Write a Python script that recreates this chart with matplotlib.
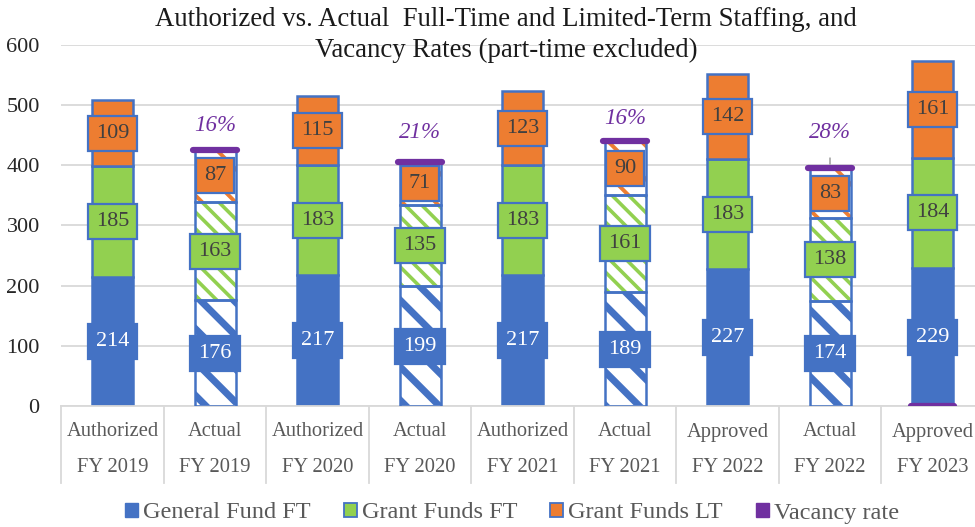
import matplotlib
matplotlib.use("Agg")
import matplotlib.pyplot as plt
import matplotlib.transforms as mtransforms
from matplotlib.patches import Patch
import numpy as np

# ---- data ----
kinds = ["Authorized", "Actual", "Authorized", "Actual", "Authorized", "Actual",
         "Approved", "Actual", "Approved"]
years = ["FY 2019", "FY 2019", "FY 2020", "FY 2020", "FY 2021", "FY 2021",
         "FY 2022", "FY 2022", "FY 2023"]
general_ft = [214, 176, 217, 199, 217, 189, 227, 174, 229]
grant_ft = [185, 163, 183, 135, 183, 161, 183, 138, 184]
grant_lt = [109, 87, 115, 71, 123, 90, 142, 83, 161]
is_actual = [False, True, False, True, False, True, False, True, False]
vacancy_rate = [None, 16, None, 21, None, 16, None, 28, 0]
series_names = ["General Fund FT", "Grant Funds FT", "Grant Funds LT", "Vacancy rate"]
title = "Authorized vs. Actual  Full-Time and Limited-Term Staffing, and\nVacancy Rates (part-time excluded)"

# ---- style ----
BLUE = "#4472C4"
GREEN = "#92D050"
ORANGE = "#ED7D31"
PURPLE = "#7030A0"
GRID = "#D9D9D9"
TXT = "#595959"
FONT = ["Liberation Serif", "DejaVu Serif"]
plt.rcParams["font.family"] = FONT

fig = plt.figure(figsize=(9.75, 5.27), dpi=100)
ax = fig.add_axes([61.25 / 975, 1 - 406 / 527, 922.5 / 975, 361 / 527])
ax.set_xlim(-0.5, 8.5)
ax.set_ylim(0, 600)

x = np.arange(len(kinds))
W = 0.4
series = [general_ft, grant_ft, grant_lt]
colors = [BLUE, GREEN, ORANGE]
hatches = ["\\", "\\\\", "\\"]
hatch_lw = [5.0, 2.6, 2.8]
text_colors = ["white", "#404040", "#404040"]

bottoms = np.zeros(len(kinds))
for vals, col, hat, hlw, tcol in zip(series, colors, hatches, hatch_lw, text_colors):
    vals = np.array(vals, dtype=float)
    for i in range(len(kinds)):
        if is_actual[i]:
            with plt.rc_context({"hatch.linewidth": hlw}):
                b = ax.bar(x[i], vals[i], W, bottom=bottoms[i], facecolor="white",
                           edgecolor=col, hatch=hat, linewidth=0, zorder=2)
                for p in b:
                    if hasattr(p, "set_hatch_linewidth"):
                        p.set_hatch_linewidth(hlw)
            ax.bar(x[i], vals[i], W, bottom=bottoms[i], fill=False,
                   edgecolor=BLUE, linewidth=1.8, zorder=3)
        else:
            ax.bar(x[i], vals[i], W, bottom=bottoms[i], color=col,
                   edgecolor=BLUE, linewidth=1.8, zorder=2)
        ax.text(x[i], bottoms[i] + vals[i] / 2, f"{int(vals[i])}", ha="center", va="center",
                fontsize=16, color=tcol, zorder=4,
                bbox=dict(boxstyle="square,pad=0.36", fc=col, ec=BLUE, lw=1.6))
    bottoms += vals

totals = bottoms.copy()

# vacancy rate markers and labels
label_offsets = {1: 24, 3: 30, 5: 23, 7: 36}
for i, v in enumerate(vacancy_rate):
    if v is None:
        continue
    y = totals[i] if v > 0 else 0
    lc = ax.hlines(y, x[i] - W / 2 - 0.01, x[i] + W / 2 + 0.01, colors=PURPLE,
                   linewidth=4.5, zorder=5)
    lc.set_capstyle("round")
    if v > 0:
        off = label_offsets.get(i, 25)
        arrow = None
        if off > 30:
            arrow = dict(arrowstyle="-", color="#A6A6A6", lw=1.2, shrinkA=9, shrinkB=3)
        ax.annotate(f"{v}%", xy=(x[i], y), xytext=(0, off * 0.72),
                    textcoords="offset points", ha="center", va="center",
                    fontsize=16.5, style="italic", color=PURPLE, zorder=6,
                    arrowprops=arrow)

# grid / axes
ax.set_yticks(np.arange(0, 601, 100))
ax.yaxis.grid(True, color=GRID, linewidth=1.3, zorder=0)
ax.set_axisbelow(True)
for s in ["top", "right", "left"]:
    ax.spines[s].set_visible(False)
ax.spines["bottom"].set_color(GRID)
ax.spines["bottom"].set_linewidth(1.3)
ax.tick_params(axis="y", length=0, labelsize=16, labelcolor="#262626", pad=15.5)
ax.tick_params(axis="x", length=0, labelbottom=False)

# multi-level category labels
trans = mtransforms.blended_transform_factory(ax.transData, ax.transAxes)
for i in range(len(kinds)):
    ax.text(x[i], -26 / 361, kinds[i], transform=trans, ha="center", va="center",
            fontsize=14.8, color=TXT, clip_on=False)
    ax.text(x[i], -62 / 361, years[i], transform=trans, ha="center", va="center",
            fontsize=14.8, color=TXT, clip_on=False)
for b in np.arange(-0.5, len(kinds) + 0.5, 1.0):
    ax.plot([b, b], [0, -77 / 361], transform=trans, color=GRID, lw=1.3, clip_on=False)

fig.text(506 / 975, 1 - 35 / 527, title, ha="center", va="center", fontsize=19.3,
         color="#1a1a1a", linespacing=1.3)

handles = [Patch(facecolor=BLUE, edgecolor=BLUE),
           Patch(facecolor=GREEN, edgecolor=BLUE, linewidth=1.3),
           Patch(facecolor=ORANGE, edgecolor=BLUE, linewidth=1.3),
           Patch(facecolor=PURPLE, edgecolor=PURPLE)]
leg = fig.legend(handles, series_names, loc="center", ncol=4,
                 bbox_to_anchor=(512 / 975, 1 - 513 / 527), frameon=False,
                 fontsize=17.5, handlelength=0.55, handleheight=0.55,
                 handletextpad=0.2, columnspacing=1.35)
for t in leg.get_texts():
    t.set_color(TXT)

fig.savefig("out.png", dpi=100)
